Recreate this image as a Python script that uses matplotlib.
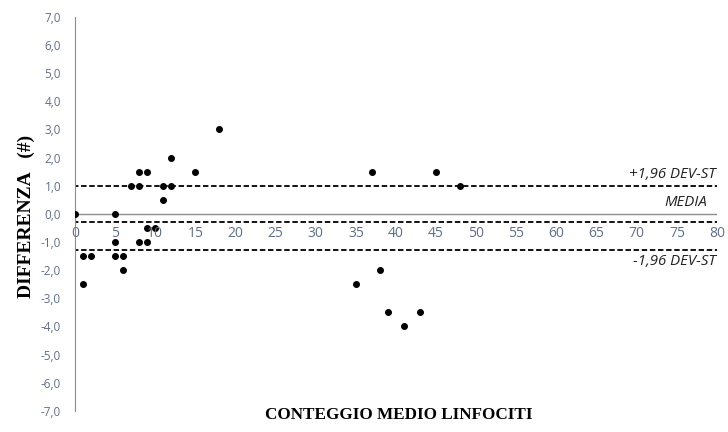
import numpy as np
import matplotlib
matplotlib.use('Agg')
import matplotlib.pyplot as plt

# conteggio medio (x) e differenza (y) per ogni campione
media_conteggio = [0, 1, 2, 1, 5, 5, 5, 6, 6, 7, 8, 8, 9, 8, 9, 9, 10, 11, 11, 12, 12, 15, 18,
                   37, 45, 48, 38, 35, 39, 41, 43]
differenza = [0, -1.5, -1.5, -2.5, 0, -1, -1.5, -1.5, -2, 1, 1, 1.5, 1.5, -1, -1, -0.5, -0.5, 1, 0.5, 1, 2, 1.5, 3,
              1.5, 1.5, 1, -2, -2.5, -3.5, -4, -3.5]

# limiti di concordanza
lim_sup = 1.0
media = -0.28
lim_inf = -1.28

x_ticks = np.arange(0, 81, 5)
y_ticks = np.arange(-7, 8, 1)
tick_col = '#5f6f88'

fig = plt.figure(figsize=(7.28, 4.32), dpi=100)
ax = fig.add_axes([0.103, 0.049, 0.882, 0.912])

ax.axhline(0, color='#8c8c8c', lw=1.0, zorder=1)
for yv in (lim_sup, media, lim_inf):
    ax.plot([-0.3, 80], [yv, yv], color='black', ls=(0, (3, 1.5)), lw=1.3, zorder=2)

ax.scatter(media_conteggio, differenza, s=16, color='black', zorder=3)

ax.set_xlim(0, 80)
ax.set_ylim(-7, 7)
ax.set_yticks(y_ticks)
ax.set_yticklabels([('%.1f' % v).replace('.', ',') for v in y_ticks], family='Open Sans')
ax.tick_params(axis='y', length=0, labelsize=8.5, colors=tick_col, pad=10)
ax.set_xticks([])
for xv in x_ticks:
    ax.text(xv, -0.42, str(xv), ha='center', va='top', fontsize=10, color=tick_col, family='Open Sans')

for s in ('top', 'right', 'bottom'):
    ax.spines[s].set_visible(False)
ax.spines['left'].set_color('#8c8c8c')

tfont = dict(fontsize=10.8, style='italic', color='#222222', family='Open Sans')
ax.text(79.8, lim_sup + 0.12, '+1,96 DEV-ST', ha='right', va='bottom', **tfont)
ax.text(78.8, 0.12, 'MEDIA', ha='right', va='bottom', **tfont)
ax.text(79.8, lim_inf - 0.15, '-1,96 DEV-ST', ha='right', va='top', **tfont)

fig.text(26 / 728, 1 - 216 / 432, 'DIFFERENZA   (#)', rotation=90, ha='center', va='center',
         fontsize=14, fontweight='bold', family='Liberation Serif')
fig.text(0.548, 0.04, 'CONTEGGIO MEDIO LINFOCITI', ha='center', va='center',
         fontsize=12.3, fontweight='bold', family='Liberation Serif')

fig.savefig('out.png', dpi=100)
